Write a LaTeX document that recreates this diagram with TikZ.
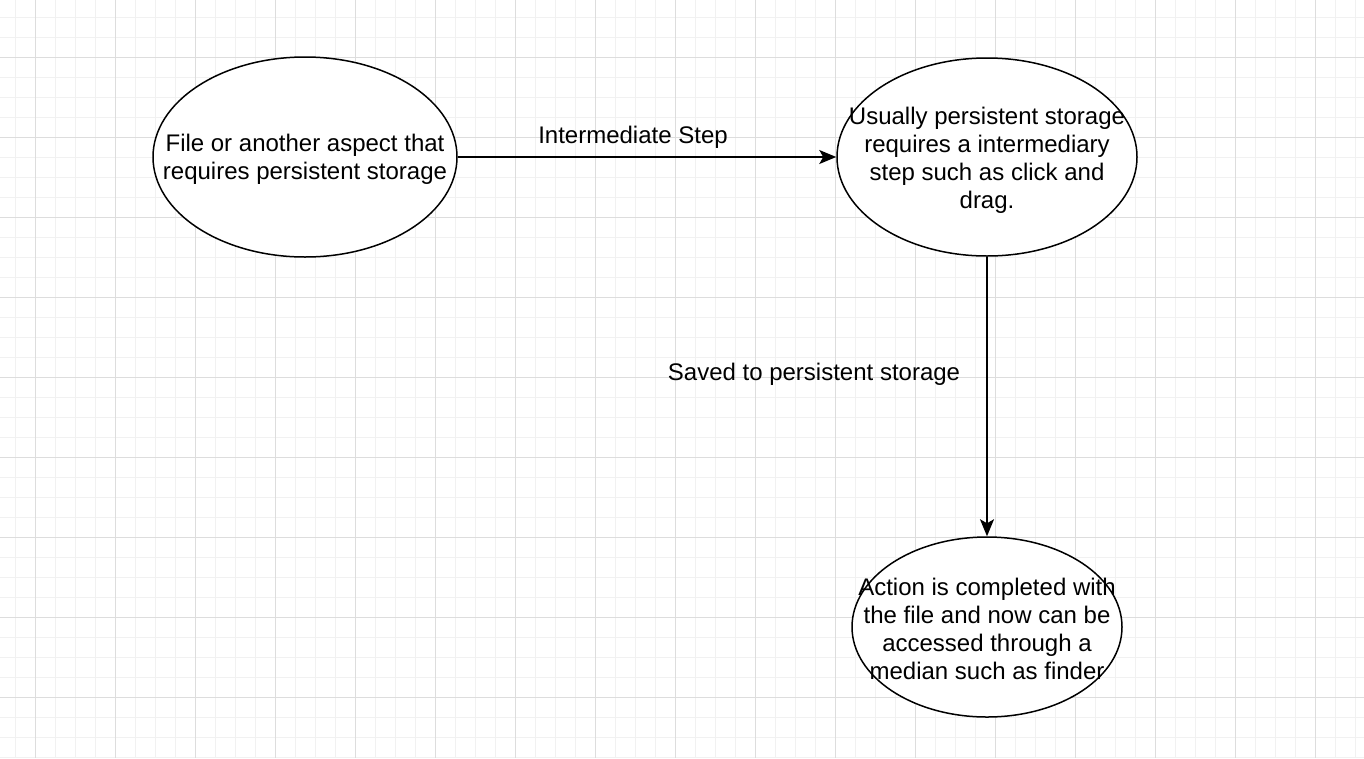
\documentclass[tikz,border=0pt]{standalone}
\usepackage{fontspec}
\setmainfont{Liberation Sans}
\usetikzlibrary{shapes.geometric,arrows.meta}
\tikzset{
  bubble/.style={ellipse, draw=black, line width=1.5pt, fill=white, inner sep=0pt},
  txt/.style={align=center, font=\fontsize{24}{28}\selectfont, inner sep=0pt},
  conn/.style={draw=black, line width=1.5pt, -{Stealth[length=17pt,width=14pt,inset=4pt]}},
}
\definecolor{gridminor}{HTML}{F1F1F1}
\definecolor{gridmajor}{HTML}{DDDDDD}
\begin{document}
\begin{tikzpicture}[x=1pt,y=-1pt]
\useasboundingbox (0,0) rectangle (1364,758);
\fill[white] (0,0) rectangle (1364,758);
% grid
\foreach \x in {15,35,...,1364} \draw[gridminor, line width=1pt] (\x,0) -- (\x,758);
\foreach \y in {17,37,...,758} \draw[gridminor, line width=1pt] (0,\y) -- (1364,\y);
\foreach \x in {35,115,...,1364} \draw[gridmajor, line width=1pt] (\x,0) -- (\x,758);
\foreach \y in {57,137,...,758} \draw[gridmajor, line width=1pt] (0,\y) -- (1364,\y);
% nodes
\node[bubble, minimum width=304pt, minimum height=200pt] (a) at (305,157) {};
\node[txt] (ta) at (305,159) {File or another aspect that\\requires persistent storage};
\node[bubble, minimum width=300pt, minimum height=198pt] (b) at (987,157) {};
\node[txt] (tb) at (987,160) {Usually persistent storage\\requires a intermediary\\step such as click and\\drag.};
\node[bubble, minimum width=270pt, minimum height=180pt] (c) at (987,627) {};
\node[txt] (tc) at (987,629) {Action is completed with\\the file and now can be\\accessed through a\\median such as finder};
% connectors
\draw[conn] (a.east) -- (b.west);
\draw[conn] (b.south) -- (c.north);
\node[txt] (la) at (633,137) {Intermediate Step};
\node[txt] (lb) at (814,374) {Saved to persistent storage};
\end{tikzpicture}
\end{document}
